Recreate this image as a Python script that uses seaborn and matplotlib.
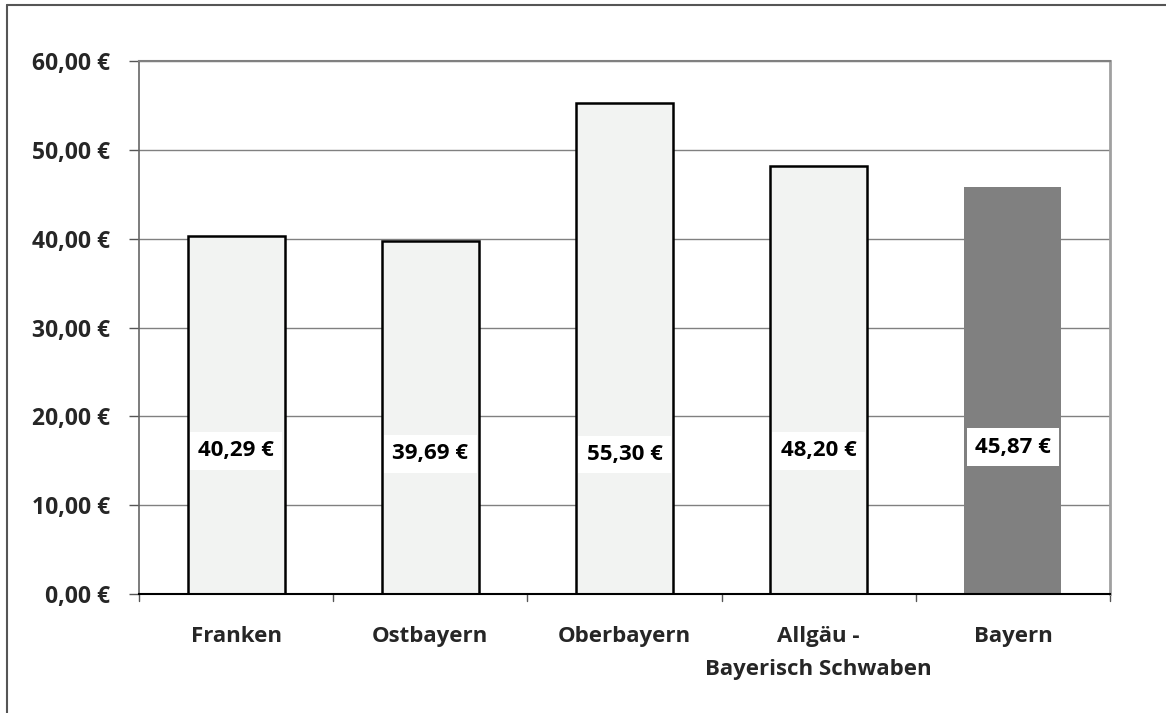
import matplotlib
matplotlib.use("Agg")
import matplotlib.pyplot as plt
import seaborn as sns
import pandas as pd
from matplotlib.lines import Line2D

categories = ["Franken", "Ostbayern", "Oberbayern", "Allgäu -\nBayerisch Schwaben", "Bayern"]
values = [40.29, 39.69, 55.30, 48.20, 45.87]
value_labels = ["40,29 €", "39,69 €", "55,30 €", "48,20 €", "45,87 €"]
yticks = [0, 10, 20, 30, 40, 50, 60]
ytick_labels = ["0,00 €", "10,00 €", "20,00 €", "30,00 €", "40,00 €", "50,00 €", "60,00 €"]
bar_colors = ["#f2f3f2", "#f2f3f2", "#f2f3f2", "#f2f3f2", "#808080"]

sns.set_theme(style="white")
plt.rcParams['font.family'] = ['Open Sans', 'DejaVu Sans']
plt.rcParams['font.weight'] = 'bold'

df = pd.DataFrame({"cat": categories, "val": values})

fig = plt.figure(figsize=(11.66, 7.13), dpi=100)
ax = fig.add_axes([139/1166, 1 - 594/713, (1110-139)/1166, (594-61)/713])

sns.barplot(data=df, x="cat", y="val", hue="cat", palette=bar_colors,
            legend=False, width=0.5, ax=ax, saturation=1)

for i, p in enumerate(ax.patches):
    if i < 4:
        p.set_edgecolor("black")
        p.set_linewidth(1.8)
    else:
        p.set_edgecolor("none")
        p.set_linewidth(0)

ax.set_ylim(0, 60)
ax.set_xlim(-0.5, 4.5)
ax.set_yticks(yticks)
ax.set_yticklabels(ytick_labels, fontsize=16.5, fontweight="bold")
ax.yaxis.grid(True, color="#808080", linewidth=1.0)
ax.set_axisbelow(True)
ax.set_xlabel("")
ax.set_ylabel("")

ax.set_xticks(range(len(categories)))
ax.set_xticklabels(categories, fontsize=16, fontweight="bold", linespacing=1.75, va="top")
ax.tick_params(axis="x", length=0, pad=23)
ax.tick_params(axis="y", length=7, width=1, color="#555555", direction="out", pad=14, left=True)

# boundary ticks on x axis
for b in [-0.5, 0.5, 1.5, 2.5, 3.5, 4.5]:
    ax.plot([b, b], [0, -0.0125], transform=ax.get_xaxis_transform(), color="#555555",
            linewidth=1, clip_on=False)

ax.spines["left"].set_color("#666666")
ax.spines["left"].set_linewidth(1.2)
ax.spines["right"].set_color("#a0a0a0")
ax.spines["right"].set_linewidth(2)
ax.spines["top"].set_color("#808080")
ax.spines["top"].set_linewidth(1.5)
ax.spines["bottom"].set_color("black")
ax.spines["bottom"].set_linewidth(1.5)
for s in ax.spines.values():
    s.set_visible(True)

label_y = [16.1, 15.8, 15.7, 16.1, 16.5]
for i, (lbl, ly) in enumerate(zip(value_labels, label_y)):
    ax.text(i, ly, lbl, ha="center", va="center", fontsize=16, fontweight="bold",
            color="black",
            bbox=dict(boxstyle="square,pad=0.38", fc="white", ec="none"))

# outer frame (left and top)
fig.add_artist(Line2D([7/1166, 7/1166], [0, 1 - 5/713], color="#555555", linewidth=1.5,
                      transform=fig.transFigure))
fig.add_artist(Line2D([7/1166, 1], [1 - 5/713, 1 - 5/713], color="#555555", linewidth=1.5,
                      transform=fig.transFigure))

fig.savefig("out.png", dpi=100)
